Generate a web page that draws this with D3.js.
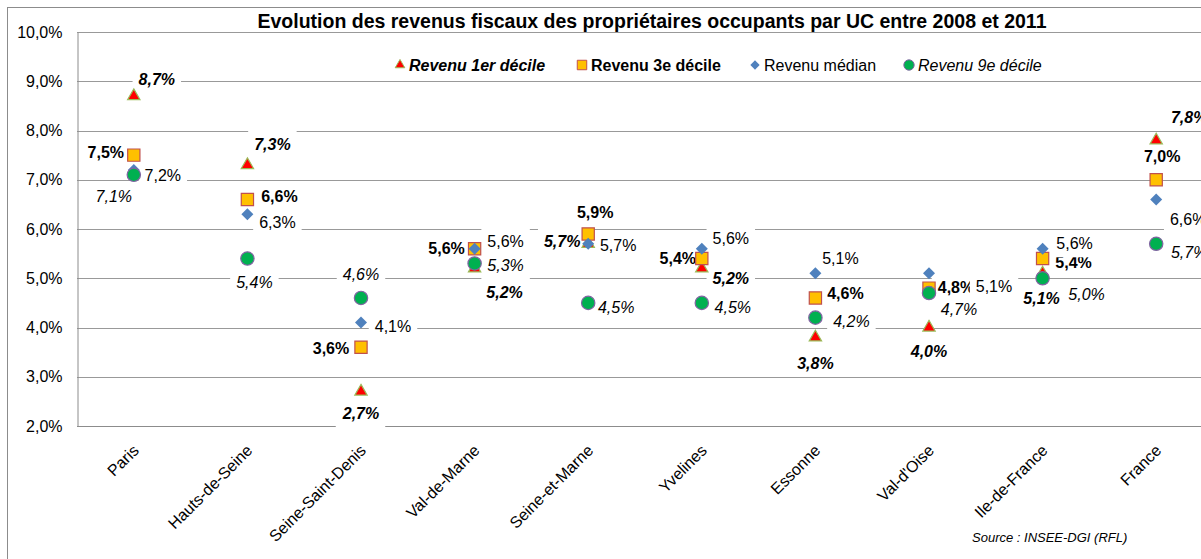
<!DOCTYPE html>
<html>
<head>
<meta charset="utf-8">
<script src="https://cdn.jsdelivr.net/npm/d3@7"></script>
<style>
  body { margin: 0; background: #fff; }
  text { font-family: Arial, "Liberation Sans", sans-serif; }
</style>
</head>
<body>
<div id="chart"></div>
<script>
// data (percent)
const categories = ["Paris", "Hauts-de-Seine", "Seine-Saint-Denis", "Val-de-Marne", "Seine-et-Marne",
                    "Yvelines", "Essonne", "Val-d'Oise", "Ile-de-France", "France"];
const decile1 = [8.7, 7.3, 2.7, 5.2, 5.7, 5.2, 3.8, 4.0, 5.1, 7.8];
const decile3 = [7.5, 6.6, 3.6, 5.6, 5.9, 5.4, 4.6, 4.8, 5.4, 7.0];
const median  = [7.2, 6.3, 4.1, 5.6, 5.7, 5.6, 5.1, 5.1, 5.6, 6.6];
const decile9 = [7.1, 5.4, 4.6, 5.3, 4.5, 4.5, 4.2, 4.7, 5.0, 5.7];
const yTicks = [2, 3, 4, 5, 6, 7, 8, 9, 10];
const seriesNames = ["Revenu 1er décile", "Revenu 3e décile", "Revenu médian", "Revenu 9e décile"];

// label placement (pixel offsets from the marker), one pair per category
const off1 = [[23,-17],[25,-21],[0,22],[30,24],[-26,-2],[29,10],[0,26],[0,24],[-1,25],[33,-23]];
const off3 = [[-28,-3],[32,-3],[-30,1],[-28,0],[7,-22],[-24,0],[30,-5],[27,-1],[31,4],[6,-23]];
const offM = [[29,5],[30,8],[32,4],[31,-7],[30,2],[29,-10],[25,-15],[65,13],[32,-5],[32,20]];
const off9 = [[-20,22],[7,24],[0,-24],[31,2],[28,5],[31,5],[36,4],[30,16],[44,16],[33,9]];

const W = 1201, H = 559;
const plot = {left: 77, top: 32, bottom: 426, right: 1213};

const svg = d3.select("#chart").append("svg")
    .attr("width", W)
    .attr("height", H);

svg.append("rect").attr("width", W).attr("height", H).attr("fill", "#fff");

// outer frame (cut at right and bottom like the original)
svg.append("rect")
    .attr("x", 7.5).attr("y", 7.5)
    .attr("width", W + 20).attr("height", H + 20)
    .attr("fill", "none").attr("stroke", "#8c8c8c");

const x = d3.scaleBand()
    .domain(categories)
    .range([plot.left, plot.right]);
const cx = c => x(c) + x.bandwidth() / 2;

const y = d3.scaleLinear()
    .domain([2, 10])
    .range([plot.bottom, plot.top]);

const fmt = v => d3.format(".1f")(v).replace(".", ",") + "%";

// gridlines
svg.append("g")
  .selectAll("line")
  .data(yTicks)
  .join("line")
    .attr("x1", plot.left).attr("x2", W)
    .attr("y1", d => Math.round(y(d)) + 0.5)
    .attr("y2", d => Math.round(y(d)) + 0.5)
    .attr("stroke", "#999");

// left axis
const yAxis = svg.append("g")
    .attr("transform", `translate(${plot.left + 0.5},0)`)
    .call(d3.axisLeft(y).tickValues(yTicks).tickSize(0).tickPadding(15).tickFormat(fmt));
yAxis.select(".domain").attr("stroke", "#8c8c8c");
yAxis.selectAll("text").attr("font-size", 16).attr("fill", "#000");

// x axis labels
const xAxis = svg.append("g")
    .attr("transform", `translate(0,${plot.bottom + 0.5})`)
    .call(d3.axisBottom(x).tickSize(0).tickPadding(0));
xAxis.select(".domain").attr("stroke", "#8c8c8c").attr("d", `M${plot.left},0H${W}`);
xAxis.selectAll(".tick")
    .attr("transform", d => `translate(${cx(d) + 6},25)`);
xAxis.selectAll("text")
    .attr("font-size", 16)
    .attr("fill", "#000")
    .attr("y", 0).attr("dy", 0)
    .attr("text-anchor", "end")
    .attr("transform", "rotate(-45)");

// title
svg.append("text")
    .attr("x", 652).attr("y", 28)
    .attr("text-anchor", "middle")
    .attr("font-size", 19.5)
    .attr("font-weight", "bold")
    .text("Evolution des revenus fiscaux des propriétaires occupants par UC entre 2008 et 2011");

// series definitions
const series = [
  {name: seriesNames[0], values: decile1, off: off1, symbol: d3.symbolTriangle, size: 66, rot: 0,
   fill: "#ff0000", stroke: "#9bbb59", weight: "bold", style: "italic"},
  {name: seriesNames[1], values: decile3, off: off3, symbol: d3.symbolSquare, size: 150, rot: 0,
   fill: "#ffc000", stroke: "#c0504d", weight: "bold", style: "normal"},
  {name: seriesNames[2], values: median, off: offM, symbol: d3.symbolSquare, size: 72, rot: 45,
   fill: "#4f81bd", stroke: "none", weight: "normal", style: "normal"},
  {name: seriesNames[3], values: decile9, off: off9, symbol: d3.symbolCircle, size: 140, rot: 0,
   fill: "#00b050", stroke: "#8064a2", weight: "normal", style: "italic"}
];

// data labels with white boxes
const labelLayer = svg.append("g");
series.forEach(s => {
  s.values.forEach((v, i) => {
    const g = labelLayer.append("g");
    const t = g.append("text")
        .attr("x", cx(categories[i]) + s.off[i][0])
        .attr("y", y(v) + s.off[i][1])
        .attr("dy", "0.35em")
        .attr("text-anchor", "middle")
        .attr("font-size", 16)
        .attr("font-weight", s.weight)
        .attr("font-style", s.style)
        .text(fmt(v));
    const b = t.node().getBBox();
    g.insert("rect", "text")
        .attr("x", b.x - 6).attr("y", b.y - 5)
        .attr("width", b.width + 12).attr("height", b.height + 10)
        .attr("fill", "#fff");
  });
});

// markers
const markerLayer = svg.append("g");
series.forEach(s => {
  markerLayer.append("g")
    .selectAll("path")
    .data(s.values)
    .join("path")
      .attr("d", d3.symbol().type(s.symbol).size(s.size))
      .attr("transform", (d, i) => `translate(${cx(categories[i])},${y(d)}) rotate(${s.rot})`)
      .attr("fill", s.fill)
      .attr("stroke", s.stroke)
      .attr("stroke-width", 1.2);
});

// legend
const legendX = [400, 582, 755, 909];
const legend = svg.append("g");
series.forEach((s, i) => {
  legend.append("path")
      .attr("d", d3.symbol().type(s.symbol).size(s.size * 0.6))
      .attr("transform", `translate(${legendX[i]},65) rotate(${s.rot})`)
      .attr("fill", s.fill)
      .attr("stroke", s.stroke);
  legend.append("text")
      .attr("x", legendX[i] + 9).attr("y", 65)
      .attr("dy", "0.35em")
      .attr("font-size", 16)
      .attr("font-weight", s.weight)
      .attr("font-style", s.style)
      .text(s.name);
});

// source
svg.append("text")
    .attr("x", 972).attr("y", 542)
    .attr("font-size", 13)
    .attr("font-style", "italic")
    .text("Source : INSEE-DGI (RFL)");
</script>
</body>
</html>
